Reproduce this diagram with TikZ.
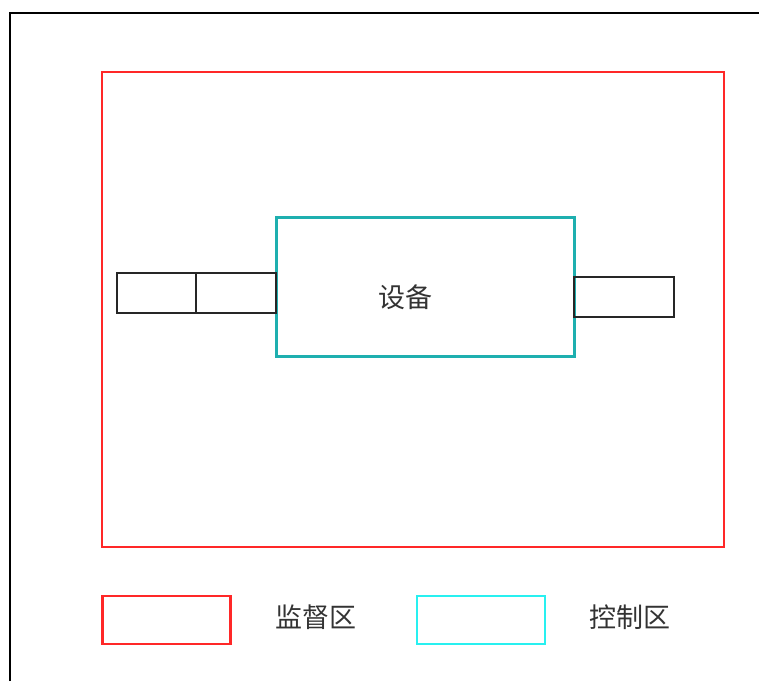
\documentclass[tikz,border=0pt]{standalone}
\usepackage{fontspec}
\newfontfamily\cjk{Noto Sans CJK SC}
\usetikzlibrary{positioning}

\definecolor{zonered}{RGB}{255,40,40}
\definecolor{devteal}{RGB}{30,175,175}
\definecolor{ctrlcyan}{RGB}{40,240,240}

\begin{document}
\begin{tikzpicture}[
    x=1pt, y=-1pt,
    zone/.style={rectangle, draw=zonered, line width=2.2pt, inner sep=0pt, outer sep=0pt},
    device/.style={rectangle, draw=devteal, line width=3pt, inner sep=0pt, outer sep=0pt},
    port/.style={rectangle, draw=black!85, line width=1.8pt, inner sep=0pt, outer sep=0pt, minimum height=40pt},
    legendbox/.style={rectangle, line width=2.2pt, inner sep=0pt, minimum width=128pt, minimum height=48pt},
    label/.style={font=\cjk\fontsize{27}{30}\selectfont, text=black!80, inner sep=0pt}
]
\useasboundingbox (0,0) rectangle (759,681);

% Outer frame (cut off at right and bottom)
\draw[line width=1.8pt] (10,681) -- (10,13) -- (759,13);

% Supervision zone
\node[zone, minimum width=622pt, minimum height=475pt] (jiandu) at (413,309.5) {};

% Device in the control zone
\node[device, minimum width=298pt, minimum height=139pt] (shebei) at (425,286.5) {};
\node[label] (shebeiname) at (405,297) {设备};

% Ports on both sides
\node[port, minimum width=79pt] (portla) at (156.5,293) {};
\node[port, minimum width=80pt] (portlb) at (236,293) {};
\node[port, minimum width=100pt] (portr) at (624,297) {};

% Legend
\node[legendbox, draw=zonered] (legred) at (166.5,620) {};
\node[label] (legredtext) at (316,617) {监督区};
\node[legendbox, draw=ctrlcyan] (legcyan) at (481,620) {};
\node[label] (legcyantext) at (630,617) {控制区};

\end{tikzpicture}
\end{document}
